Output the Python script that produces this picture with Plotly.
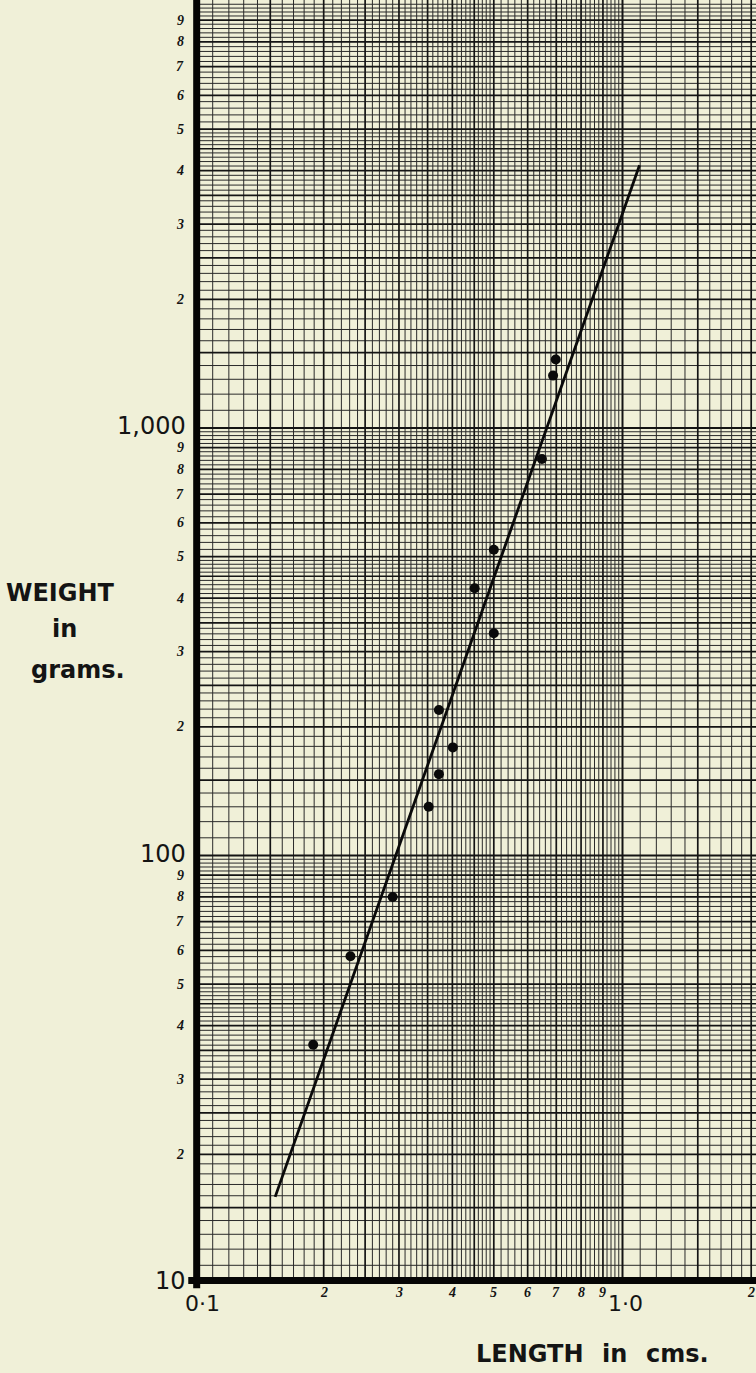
import numpy as np
import plotly.graph_objects as go

# ---------------- data ----------------
length_cm = [0.189, 0.231, 0.290, 0.352, 0.372, 0.401, 0.372, 0.500, 0.451, 0.500, 0.648, 0.688, 0.698]
weight_g = [36.1, 58.1, 80.0, 130, 155, 179, 219, 331, 422, 519, 846, 1326, 1446]

fit_length = [0.154, 1.096]
fit_weight = [15.9, 4116]

# tick labels
x_small_vals = [0.2, 0.3, 0.4, 0.5, 0.6, 0.7, 0.8, 0.9, 2.0]
x_small_text = ["2", "3", "4", "5", "6", "7", "8", "9", "2"]
x_big_vals = [0.1, 1.0]
x_big_text = ["0·1", "1·0"]

y_small_vals = [20, 30, 40, 50, 60, 70, 80, 90,
                200, 300, 400, 500, 600, 700, 800, 900,
                2000, 3000, 4000, 5000, 6000, 7000, 8000, 9000]
y_small_text = ["2", "3", "4", "5", "6", "7", "8", "9"] * 3
y_big_vals = [10, 100, 1000]
y_big_text = ["10", "100", "1,000"]

# graph-paper ruling (mantissas within a decade)
fine_mant = ([1.1, 1.2, 1.3, 1.4, 1.6, 1.7, 1.8, 1.9]
             + [2.1, 2.2, 2.3, 2.4, 2.6, 2.7, 2.8, 2.9, 3.1, 3.2, 3.3, 3.4, 3.6, 3.7, 3.8, 3.9,
                4.1, 4.2, 4.3, 4.4, 4.6, 4.7, 4.8, 4.9]
             + [5.2, 5.4, 5.6, 5.8, 6.2, 6.4, 6.6, 6.8, 7.2, 7.4, 7.6, 7.8,
                8.2, 8.4, 8.6, 8.8, 9.2, 9.4, 9.6, 9.8])
heavy_mant = [1.5, 2, 2.5, 3, 3.5, 4, 4.5, 5, 6, 7, 8, 9]
decade_mant = [1]
x_decades = [0.1, 1.0]
y_decades = [10, 100, 1000]

# ---------------- geometry ----------------
W, H = 756, 1373
ML, MR, MT, MB = 195, 0, 0, 90
D = 427.5
x_range = [-1, -1 + (W - ML - MR) / D]
y_range = [1, 1 + (H - MT - MB) / D]
XMIN, XMAX = 10 ** x_range[0], 10 ** x_range[1]
YMIN, YMAX = 10 ** y_range[0], 10 ** y_range[1]

PAPER = "#F0F0D8"
INK = "#141414"

fig = go.Figure()


def vlines(mants, decs):
    xs, ys = [], []
    for d in decs:
        for m in mants:
            v = d * m
            if XMIN < v < XMAX:
                xs += [v, v, None]
                ys += [YMIN, YMAX, None]
    return xs, ys


def hlines(mants, decs):
    xs, ys = [], []
    for d in decs:
        for m in mants:
            v = d * m
            if YMIN < v < YMAX:
                xs += [XMIN, XMAX, None]
                ys += [v, v, None]
    return xs, ys


for mants, width, col in [(fine_mant, 1.0, "#2a2a2a"), (heavy_mant, 1.7, INK), (decade_mant, 2.0, INK)]:
    xs, ys = vlines(mants, x_decades)
    fig.add_trace(go.Scatter(x=xs, y=ys, mode="lines", line=dict(color=col, width=width),
                             hoverinfo="skip", showlegend=False))
    xs, ys = hlines(mants, y_decades)
    fig.add_trace(go.Scatter(x=xs, y=ys, mode="lines", line=dict(color=col, width=width),
                             hoverinfo="skip", showlegend=False))

# fitted line
fig.add_trace(go.Scatter(x=fit_length, y=fit_weight, mode="lines",
                         line=dict(color="#0a0a0a", width=2.8), showlegend=False))
# observations
fig.add_trace(go.Scatter(x=length_cm, y=weight_g, mode="markers",
                         marker=dict(color="#0a0a0a", size=10, line=dict(width=0)),
                         showlegend=False))

# ---------------- labels ----------------
ann = []
small_font = dict(family="Liberation Serif", size=14, color=INK, style="italic", weight="bold")
big_font = dict(family="DejaVu Sans", size=24, color=INK)
xbig_font = dict(family="DejaVu Sans", size=22, color=INK)

for v, t in zip(y_small_vals, y_small_text):
    ann.append(dict(x=0, xref="paper", y=np.log10(v), yref="y", text=t, showarrow=False,
                    xanchor="right", yanchor="middle", xshift=-9, font=small_font))
for v, t in zip(y_big_vals, y_big_text):
    ann.append(dict(x=0, xref="paper", y=np.log10(v), yref="y", text=t, showarrow=False,
                    xanchor="right", yanchor="middle", xshift=-7, yshift=2, font=big_font))
for v, t in zip(x_small_vals, x_small_text):
    ann.append(dict(x=np.log10(v), xref="x", y=0, yref="paper", text=t, showarrow=False,
                    xanchor="center", yanchor="top", yshift=0, font=small_font))
for v, t, dx in zip(x_big_vals, x_big_text, [7, 3]):
    ann.append(dict(x=np.log10(v), xref="x", y=0, yref="paper", text=t, showarrow=False,
                    xanchor="center", yanchor="top", yshift=-6, xshift=dx, font=xbig_font))

title_font = dict(family="DejaVu Sans", size=24, color=INK, weight="bold")
pw, ph = W - ML - MR, H - MT - MB


def px_to_paper(px, py):
    return (px - ML) / pw, 1 - (py - MT) / ph


for txt, cx, cy in [("WEIGHT", 60, 593), ("in", 64, 629), ("grams.", 78, 670),
                    ("LENGTH", 530, 1354), ("in", 614, 1354), ("cms.", 677, 1354)]:
    ax, ay = px_to_paper(cx, cy)
    ann.append(dict(x=ax, y=ay, xref="paper", yref="paper", text=txt, showarrow=False,
                    xanchor="center", yanchor="middle", font=title_font))

# thick axes
shapes = [
    dict(type="line", xref="paper", yref="paper", x0=0.003, x1=0.003, y0=-0.004, y1=1,
         line=dict(color="#050505", width=7)),
    dict(type="line", xref="paper", yref="paper", x0=-0.012, x1=1, y0=0.002, y1=0.002,
         line=dict(color="#050505", width=7)),
]

fig.update_layout(
    width=W, height=H,
    margin=dict(l=ML, r=MR, t=MT, b=MB, pad=0),
    paper_bgcolor=PAPER, plot_bgcolor=PAPER,
    xaxis=dict(type="log", range=x_range, showgrid=False, zeroline=False, showticklabels=False,
               ticks="", showline=False, fixedrange=True),
    yaxis=dict(type="log", range=y_range, showgrid=False, zeroline=False, showticklabels=False,
               ticks="", showline=False, fixedrange=True),
    annotations=ann, shapes=shapes, showlegend=False,
)

fig.write_html("out.html", config={"displayModeBar": False},
               post_script="document.body.style.margin='0';document.body.style.background='#F0F0D8';")
